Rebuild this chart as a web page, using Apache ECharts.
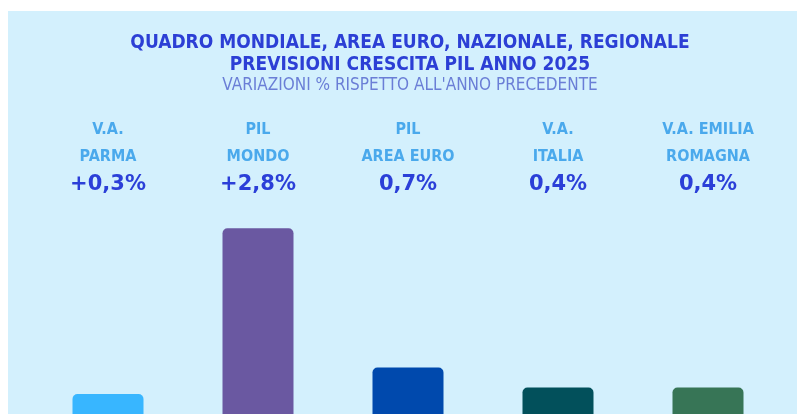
<!DOCTYPE html>
<html>
<head>
<meta charset="utf-8">
<script src="https://cdn.jsdelivr.net/npm/echarts@6/dist/echarts.min.js"></script>
<style>
  html, body { margin: 0; padding: 0; background: #ffffff; }
  #chart { width: 803px; height: 414px; }
</style>
</head>
<body>
<div id="chart"></div>
<script>
// dati
const labelTop = ['V.A.', 'PIL', 'PIL', 'V.A.', 'V.A. EMILIA'];
const labelBottom = ['PARMA', 'MONDO', 'AREA EURO', 'ITALIA', 'ROMAGNA'];
const values = [0.3, 2.8, 0.7, 0.4, 0.4];
const valueLabels = ['+0,3%', '+2,8%', '0,7%', '0,4%', '0,4%'];
const barColors = ['#38b6ff', '#6a58a1', '#0049ad', '#02505b', '#377556'];

const titleFont = '"Liberation Sans Narrow", "DejaVu Sans Condensed", Roboto, sans-serif';

let myChart = echarts.init(document.getElementById('chart'));
let option = {
  backgroundColor: '#ffffff',
  animation: false,
  graphic: [
    {
      type: 'rect',
      z: -10,
      shape: { x: 8, y: 11, width: 789, height: 403 },
      style: { fill: '#d3f0fd' }
    },
    {
      type: 'text',
      x: 410,
      y: 32,
      style: {
        text: 'QUADRO MONDIALE, AREA EURO, NAZIONALE, REGIONALE\nPREVISIONI CRESCITA PIL ANNO 2025',
        fill: '#2c3fd5',
        font: 'bold 19px ' + titleFont,
        align: 'center',
        lineHeight: 22
      }
    },
    {
      type: 'text',
      x: 410,
      y: 77,
      style: {
        text: "VARIAZIONI % RISPETTO ALL'ANNO PRECEDENTE",
        fill: '#6a7ed6',
        font: '17px ' + titleFont,
        align: 'center'
      }
    }
  ],
  grid: {
    left: 33,
    right: 20,
    top: 215,
    bottom: 0,
    containLabel: false
  },
  xAxis: {
    type: 'category',
    position: 'top',
    data: labelBottom,
    axisLine: { show: false },
    axisTick: { show: false },
    axisLabel: {
      interval: 0,
      margin: 15,
      formatter: function (v, i) {
        return '{n|' + labelTop[i] + '}\n{n|' + labelBottom[i] + '}\n{v|' + valueLabels[i] + '}';
      },
      rich: {
        n: {
          color: '#4aa9ec',
          fontFamily: titleFont,
          fontWeight: 'bold',
          fontSize: 16,
          lineHeight: 27
        },
        v: {
          color: '#2b3fd8',
          fontFamily: '"DejaVu Sans", sans-serif',
          fontWeight: 'bold',
          fontSize: 21,
          lineHeight: 30
        }
      }
    }
  },
  yAxis: {
    type: 'value',
    min: 0,
    max: 3,
    show: false
  },
  series: [{
    type: 'bar',
    barWidth: 71,
    data: values.map(function (v, i) {
      return { value: v, itemStyle: { color: barColors[i] } };
    }),
    itemStyle: { borderRadius: [5, 5, 0, 0] }
  }]
};
myChart.setOption(option);
</script>
</body>
</html>
